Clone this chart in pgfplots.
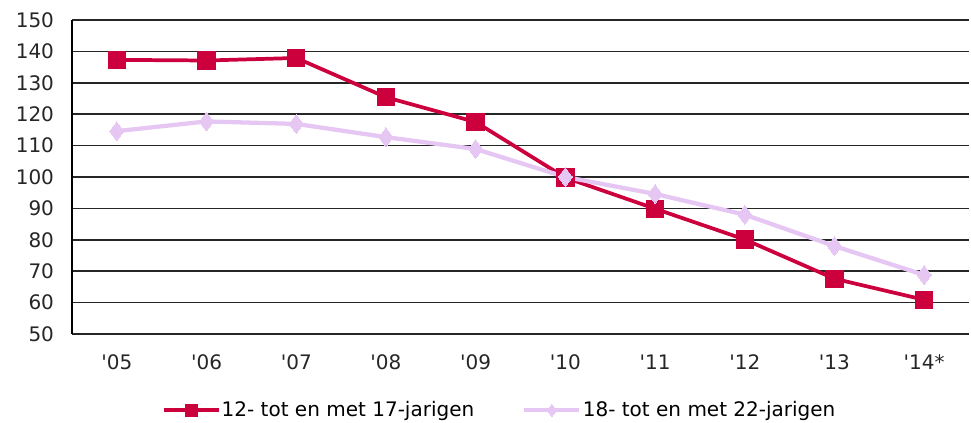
\documentclass[border=0pt]{standalone}
\usepackage{pgfplots}
\pgfplotsset{compat=1.18}
\usetikzlibrary{calc}
\usepackage{fontspec}
\setmainfont{DejaVu Sans}

\definecolor{jeugd}{RGB}{204,0,60}
\definecolor{jongv}{RGB}{230,198,242}

\begin{document}
\begin{tikzpicture}
\begin{axis}[
    scale only axis,
    width=672.75pt, height=235.5pt,
    xmin=-0.5, xmax=9.5,
    ymin=50, ymax=150,
    ytick={50,60,...,150},
    xtick={0,...,9},
    xticklabels={\textquotesingle05,\textquotesingle06,\textquotesingle07,\textquotesingle08,\textquotesingle09,\textquotesingle10,\textquotesingle11,\textquotesingle12,\textquotesingle13,\textquotesingle14*},
    axis x line*=bottom, axis y line*=left,
    x axis line style={draw=none},
    y axis line style={black, line width=1.2pt},
    major tick length=0pt,
    ymajorgrids, grid style={black!85, line width=1.2pt},
    tick label style={font=\fontsize{15}{17}\selectfont, text=black!85},
    /pgf/number format/assume math mode=true,
    yticklabel style={xshift=-10pt},
    xticklabel style={yshift=-12pt},
    legend style={at={(0.477,-0.243)}, anchor=center, draw=none,
        font=\fontsize{15}{17}\selectfont, legend columns=2,
        /tikz/every even column/.append style={column sep=34pt},
        /tikz/every odd column/.append style={column sep=-1pt}},
    legend image code/.code={
        \draw[#1] (0cm,0cm) -- (1.45cm,0cm);
        \draw[#1, mark repeat=2, mark phase=2, mark size=4.5pt] plot coordinates {(0cm,0cm) (0.725cm,0cm) (1.45cm,0cm)};
    },
]
\addplot[jeugd, line width=2.8pt, mark=square*, mark size=6.5pt, mark options={solid, line width=0pt}]
coordinates {(0,137.3) (1,137.1) (2,137.9) (3,125.4) (4,117.5) (5,99.8) (6,89.9) (7,80.1) (8,67.6) (9,60.9)};
\addlegendentry{12- tot en met 17-jarigen}
\addplot[jongv, line width=3.2pt, mark=diamond*, mark size=7pt, mark options={solid, line width=0pt}]
coordinates {(0,114.6) (1,117.7) (2,116.9) (3,112.7) (4,108.9) (5,100) (6,94.6) (7,88) (8,78) (9,68.8)};
\addlegendentry{18- tot en met 22-jarigen}
\end{axis}
\pgfresetboundingbox
\useasboundingbox ($(current axis.south west)+(-54pt,-66.75pt)$) rectangle ($(current axis.north east)+(1.5pt,15pt)$);
\end{tikzpicture}
\end{document}
